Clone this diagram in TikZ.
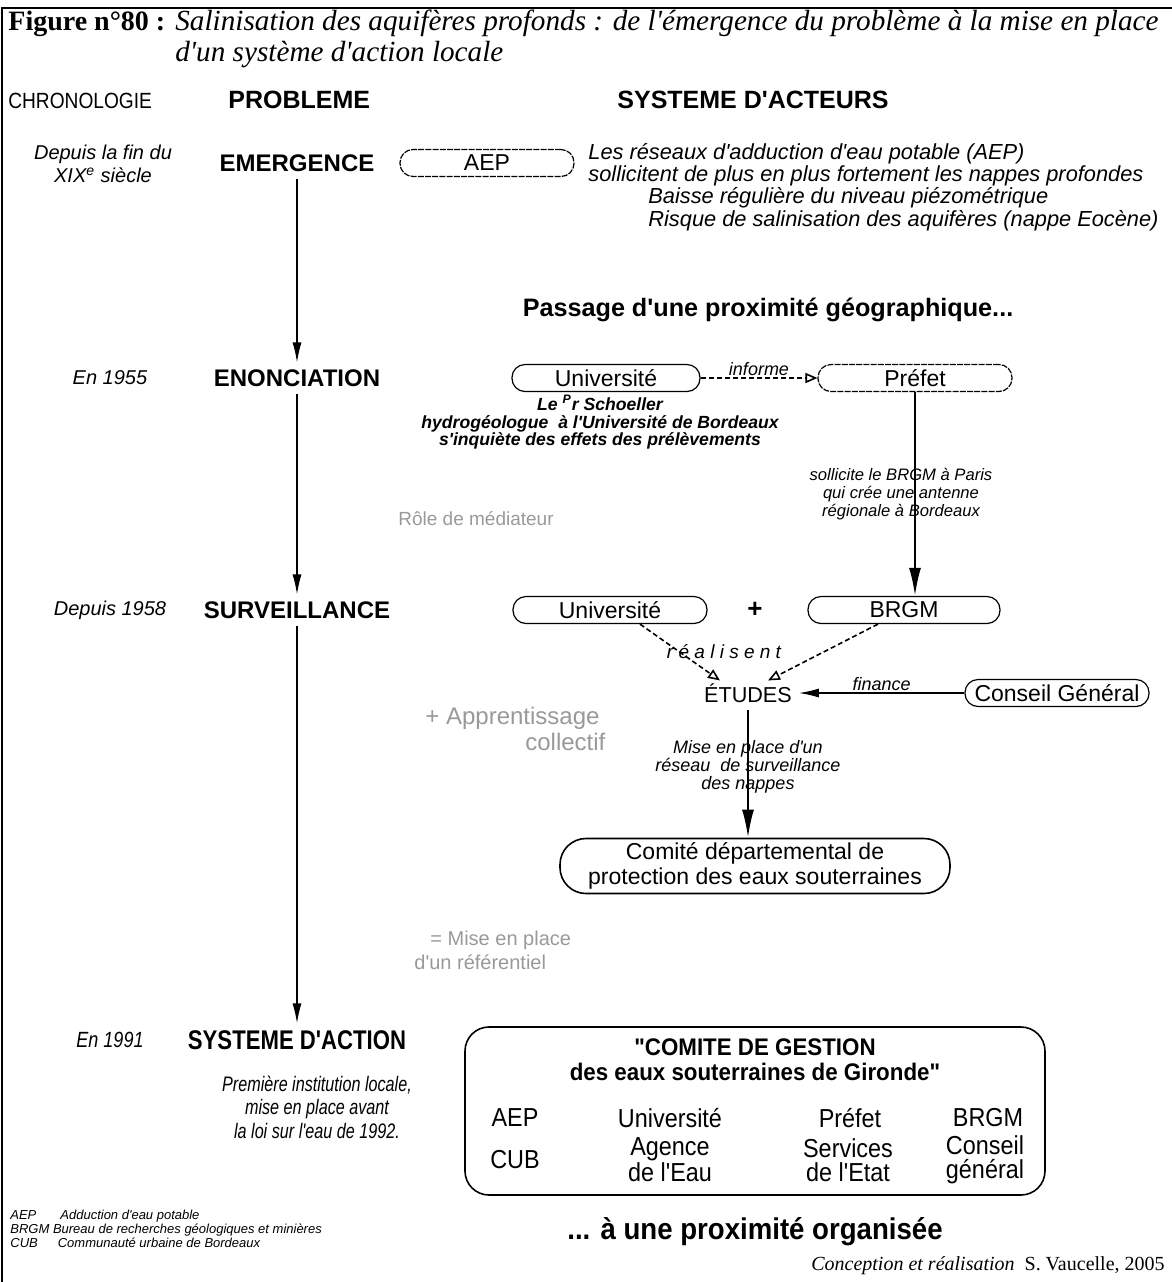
\documentclass[tikz,border=0pt]{standalone}
\usepackage{fontspec}
\setmainfont{Liberation Sans}[Ligatures=TeXOff]
\newfontfamily\titlefont{Liberation Serif}
\usetikzlibrary{arrows.meta,positioning}
\newcommand{\fsz}[2]{\fontsize{#1}{#2}\selectfont}

\begin{document}
\begin{tikzpicture}[x=0.5pt,y=-0.5pt,
    actor/.style={draw,line width=0.6pt,rounded corners=6.5pt,minimum height=13.5pt,inner sep=1pt,font=\fsz{11.5}{13}},
    stage/.style={font=\bfseries\fsz{12}{14}},
    date/.style={font=\itshape\fsz{10}{11.5},align=center},
    note/.style={font=\itshape\fsz{8.3}{9},align=center},
    faded/.style={text=black!40,align=left,inner sep=0},
    narrow/.style={transform shape,xscale=0.82},
    member/.style={font=\fsz{13}{12},align=center,transform shape,xscale=0.9},
    flow/.style={line width=0.7pt,-{Latex[length=10pt,width=4.5pt]}},
    strong/.style={line width=1.1pt,-{Latex[length=14pt,width=6pt]}},
    relay/.style={line width=0.8pt,dash pattern=on 2.5pt off 1.5pt,-{Triangle[open,length=6pt,width=5pt]}}]
  \useasboundingbox (0,0) rectangle (1172,1282);
  \draw[line width=0.8pt] (2,1282) -- (2,8) -- (1172,8);

  % titre
  \node[anchor=base west,inner sep=0,font=\titlefont\bfseries\fsz{14}{16}] (fignum) at (8,30) {Figure n°80 :};
  \node[anchor=base west,inner sep=0,font=\titlefont\itshape\fsz{14.6}{16}] (title1) at (175,30) {Salinisation des aquifères profonds : de l'émergence du problème à la mise en place};
  \node[anchor=base west,inner sep=0,font=\titlefont\itshape\fsz{14.6}{16}] (title2) at (175,61) {d'un système d'action locale};

  % en-tetes
  \node[anchor=base west,inner sep=0,font=\fsz{11}{13},transform shape,xscale=0.87] (chrono) at (8,108) {CHRONOLOGIE};
  \node[anchor=base west,inner sep=0,stage,font=\bfseries\fsz{12.5}{14}] (probleme) at (228,108) {PROBLEME};
  \node[anchor=base west,inner sep=0,stage,font=\bfseries\fsz{12.5}{14}] (acteurs) at (617,108) {SYSTEME D'ACTEURS};

  % colonne probleme
  \node[stage] (emergence) at (297,163) {EMERGENCE};
  \node[stage] (enonciation) at (297,378) {ENONCIATION};
  \node[stage] (surveillance) at (297,610) {SURVEILLANCE};
  \node[stage,font=\bfseries\fsz{13.5}{15},narrow] (sysaction) at (297,1040) {SYSTEME D'ACTION};
  \draw[flow] (emergence) -- (enonciation);
  \draw[flow] (enonciation) -- (surveillance);
  \draw[flow] (surveillance) -- (sysaction);

  % chronologie
  \node[date] (d1800) at (103,164) {Depuis la fin du\\XIX\textsuperscript{e} siècle};
  \node[date] (d1955) at (110,378) {En 1955};
  \node[date] (d1958) at (110,610) {Depuis 1958};
  \node[date,font=\itshape\fsz{11}{13},narrow] (d1991) at (110,1040) {En 1991};
  \node[date,font=\itshape\fsz{10.5}{11.8},transform shape,xscale=0.77] (institution) at (317,1107) {Première institution locale,\\mise en place avant\\la loi sur l'eau de 1992.};

  % emergence
  \node[actor,minimum width=87pt,dash pattern=on 3pt off 0.6pt] (aep) at (487,163) {AEP};
  \node[anchor=west,inner sep=0,font=\itshape\fsz{10.9}{11.2},align=left] (aepdesc) at (588,187)
    {Les réseaux d'adduction d'eau potable (AEP)\\sollicitent de plus en plus fortement les nappes profondes\\\hspace*{30pt}Baisse régulière du niveau piézométrique\\\hspace*{30pt}Risque de salinisation des aquifères (nappe Eocène)};

  \node[font=\bfseries\fsz{12.6}{15}] (passage) at (768,310) {Passage d'une proximité géographique...};

  % enonciation
  \node[actor,minimum width=94pt] (univA) at (606,378) {Université};
  \node[actor,minimum width=97pt,dash pattern=on 3pt off 0.6pt] (prefet) at (915,378) {Préfet};
  \draw[relay] (univA) -- node[above,inner sep=1pt,font=\itshape\fsz{9}{10}] {informe} (prefet);
  \node[note,font=\bfseries\itshape\fsz{8.8}{8.8}] (schoeller) at (600,422) {Le \textsuperscript{P}r Schoeller\\hydrogéologue\ \ à l'Université de Bordeaux\\s'inquiète des effets des prélèvements};
  \node[faded,anchor=west,font=\fsz{9.5}{11}] (role) at (398,519) {Rôle de médiateur};

  % surveillance
  \node[actor,minimum width=97pt] (univB) at (610,610) {Université};
  \node[font=\bfseries\fsz{13}{14}] (plus) at (755,610) {+};
  \node[actor,minimum width=96pt] (brgm) at (904,610) {BRGM};
  \draw[strong] (prefet) -- node[note,pos=0.5,xshift=-7pt] {sollicite le BRGM à Paris\\qui crée une antenne\\régionale à Bordeaux} (prefet |- brgm.north);

  \node[font=\fsz{10.8}{13}] (etudes) at (748,693) {ÉTUDES};
  \node[actor,minimum width=92pt] (cg) at (1057,693) {Conseil Général};
  \draw[relay] ([xshift=15pt]univB.south) -- ([xshift=-14pt,yshift=-2pt]etudes.north);
  \draw[relay] ([xshift=-13pt]brgm.south) -- ([xshift=10pt,yshift=-2pt]etudes.north);
  \node[font=\itshape\fsz{9.5}{11}] (realisent) at (724,652) {r é a l i s e n t};
  \draw[flow] (cg) -- node[above,inner sep=1pt,font=\itshape\fsz{9}{10}] {finance} (etudes);
  \node[faded,anchor=west,font=\fsz{12}{13}] (apprent) at (425,729) {+ Apprentissage\\\hspace*{50pt}collectif};

  \node[draw,line width=0.8pt,rounded corners=13pt,minimum width=195pt,minimum height=27.5pt,inner sep=1pt,font=\fsz{11.5}{12.2},align=center] (comite) at (755,866) {Comité départemental de\\protection des eaux souterraines};
  \draw[strong] (etudes) -- node[note,font=\itshape\fsz{9}{9},pos=0.45] {Mise en place d'un\\réseau\ \ de surveillance\\des nappes} (etudes |- comite.north);
  \node[faded,anchor=west,font=\fsz{10}{12}] (referentiel) at (414,950) {\hspace*{8pt}= Mise en place\\d'un référentiel};

  % systeme d'action
  \node[draw,line width=0.8pt,rounded corners=12pt,minimum width=290pt,minimum height=84pt] (cgestion) at (755,1111) {};
  \node[font=\bfseries\fsz{12}{12.5},align=center,transform shape,xscale=0.93] (cgtitle) at (755,1060) {\char34 COMITE DE GESTION\\des eaux souterraines de Gironde\char34};
  \node[member] (m1) at (515,1118) {AEP};
  \node[member] (m2) at (670,1118) {Université};
  \node[member] (m3) at (850,1118) {Préfet};
  \node[member] (m4) at (988,1118) {BRGM};
  \node[member] (m5) at (515,1160) {CUB};
  \node[member] (m6) at (670,1160) {Agence\\de l'Eau};
  \node[member] (m7) at (848,1160) {Services\\de l'Etat};
  \node[member] (m8) at (985,1160) {Conseil\\général};

  \node[font=\bfseries\fsz{15}{16},transform shape,xscale=0.92] (organisee) at (755,1232) {... à une proximité organisée};

  % legende
  \node[anchor=north west,inner sep=0,font=\itshape\fsz{6.5}{7},align=left] (legend) at (10,1210)
    {AEP\hspace{12pt}Adduction d'eau potable\\BRGM Bureau de recherches géologiques et minières\\CUB\hspace{10pt}Communauté urbaine de Bordeaux};
  \node[anchor=base east,inner sep=0,font=\titlefont\fsz{10}{12}] (credit) at (1165,1270) {\textit{Conception et réalisation}\ \ S. Vaucelle, 2005};
\end{tikzpicture}
\end{document}
